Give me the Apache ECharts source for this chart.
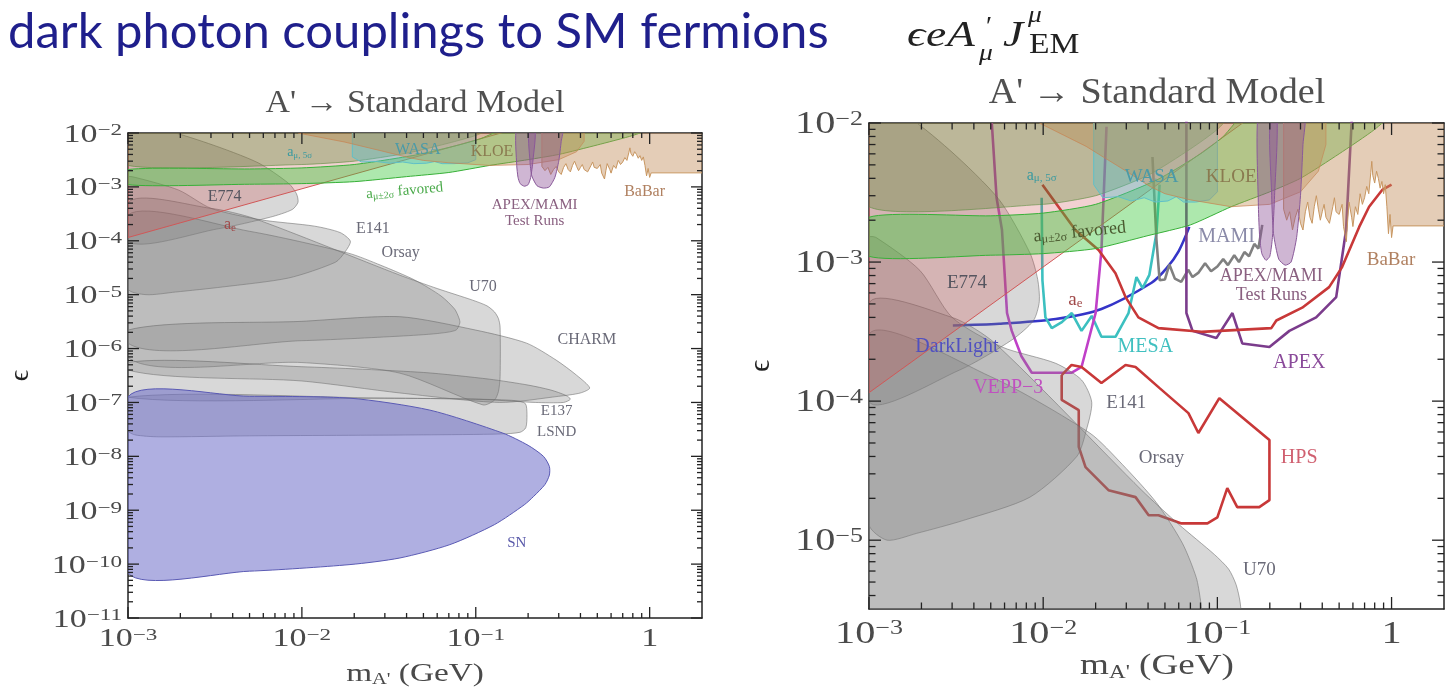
<!DOCTYPE html>
<html><head><meta charset="utf-8">
<script src="https://cdn.jsdelivr.net/npm/echarts@6.0.0/dist/echarts.min.js"></script>
<style>html,body{margin:0;padding:0;background:#fff}#c{width:1449px;height:693px}</style>
</head><body><div id="c"></div>
<script>
// ---------------- DATA (mass in GeV, epsilon) ----------------
const massTicks = [1e-3, 1e-2, 1e-1, 1];
const epsTicksLeft = [1e-11,1e-10,1e-9,1e-8,1e-7,1e-6,1e-5,1e-4,1e-3,1e-2];
const epsTicksRight = [1e-5,1e-4,1e-3,1e-2];
const minorMultipliers = [2,3,4,5,6,7,8,9];

const e774 = [[1e-3,1.0e-4],[3.3e-3,1.67e-4],[6.6e-3,2.75e-4],[8.8e-3,3.8e-4],[9.5e-3,5.2e-4],[9.3e-3,7.5e-4],[8.4e-3,1.16e-3],[5.6e-3,2.8e-3],[2.9e-3,6.4e-3],[1.5e-3,1.2e-2],[1e-3,1.2e-2]];
const e141 = [[1e-3,1.5e-3],[1.1e-3,1.5e-3],[1.96e-3,8.7e-4],[3.0e-3,4.0e-4],[5.8e-3,2.45e-4],[0.0118,1.87e-4],[0.0166,1.42e-4],[0.019,9.8e-5],[0.0177,6.2e-5],[0.0156,4.0e-5],[8.4e-3,2.04e-5],[3.5e-3,1.39e-5],[1.88e-3,1.12e-5],[1.27e-3,1.0e-5],[1e-3,1.3e-5]];
const orsay = [[1e-3,3e-4],[5e-3,1.5e-4],[0.0185,5.9e-5],[0.0285,3.5e-5],[0.0447,1.86e-5],[0.063,9.5e-6],[0.0756,5.4e-6],[0.08,3.7e-6],[0.081,3.0e-6],[0.077,2.2e-6],[0.06,1.9e-6],[0.0366,1.7e-6],[0.01,1.4e-6],[1e-3,1.26e-6]];
const u70 = [[1e-3,5e-4],[3e-3,4e-4],[5.3e-3,2.6e-4],[0.0366,2.3e-5],[0.06,1.3e-5],[0.096,7.9e-6],[0.116,6.2e-6],[0.128,4.8e-6],[0.135,3.6e-6],[0.138,2.5e-6],[0.138,3e-7],[0.135,1.6e-7],[0.128,1.1e-7],[0.11,9e-8],[0.0366,3.5e-7],[0.01,5.5e-7],[1e-3,6.9e-7]];
const charm = [[1e-3,2.2e-6],[0.01,3.2e-6],[0.0366,3.9e-6],[0.1,2.2e-6],[0.196,1.26e-6],[0.29,6.1e-7],[0.38,3.2e-7],[0.452,1.86e-7],[0.4,1.5e-7],[0.3,1.3e-7],[0.137,1.0e-7],[0.0366,1.5e-7],[0.01,2.5e-7],[1e-3,4e-7]];
const e137 = [[1e-3,5.5e-7],[0.01,4.6e-7],[0.05,3.6e-7],[0.12,2.7e-7],[0.2,2.1e-7],[0.27,1.7e-7],[0.33,1.35e-7],[0.35,1.15e-7],[0.32,1.0e-7],[0.22,1.0e-7],[0.1,1.15e-7],[0.03,1.2e-7],[1e-3,1.25e-7]];
const lsnd = [[1e-3,1.25e-7],[0.03,1.2e-7],[0.1,1.15e-7],[0.17,1.08e-7],[0.193,9.5e-8],[0.197,6e-8],[0.194,3.4e-8],[0.18,2.8e-8],[0.14,2.6e-8],[0.05,2.5e-8],[5e-3,2.4e-8],[1.5e-3,2.3e-8],[1.1e-3,2.5e-8],[1e-3,3e-8]];
const supernova = [[1e-3,1.26e-7],[5e-3,1.3e-7],[0.0189,1.2e-7],[0.0545,7.2e-8],[0.143,2.7e-8],[0.2,1.6e-8],[0.245,1.0e-8],[0.265,6.5e-9],[0.265,4.5e-9],[0.25,3e-9],[0.215,1.8e-9],[0.19,1.26e-9],[0.128,5.4e-10],[0.071,2.3e-10],[0.0366,1.3e-10],[0.0189,9.8e-11],[5e-3,7.4e-11],[1e-3,6.9e-11]];
const aeRegion = [[1e-3,1.15e-4],[0.16,1.13e-2],[1e-3,1.13e-2]];
const amu5sigma = [[1e-3,2.5e-3],[0.01,2.6e-3],[0.02,3.0e-3],[0.04,4.2e-3],[0.07,6.5e-3],[0.1,9e-3],[0.12,1.2e-2],[1e-3,1.2e-2]];
const amuFavored = [[1e-3,1.1e-3],[5e-3,1.12e-3],[0.01,1.15e-3],[0.02,1.25e-3],[0.04,1.55e-3],[0.07,1.85e-3],[0.12,2.5e-3],[0.2,3.2e-3],[0.3,4.0e-3],[0.5,6e-3],[0.8,9e-3],[1.0,1.2e-2],[0.15,1.2e-2],[0.107,7.9e-3],[0.08,6e-3],[0.045,3.9e-3],[0.02,2.6e-3],[0.01,2.25e-3],[5e-3,2.15e-3],[1e-3,2.1e-3]];
const wasa = [[0.0195,1.2e-2],[0.0195,3.6e-3],[0.022,2.9e-3],[0.027,2.95e-3],[0.032,2.75e-3],[0.038,2.9e-3],[0.044,2.7e-3],[0.052,2.75e-3],[0.058,2.95e-3],[0.064,2.7e-3],[0.075,2.7e-3],[0.09,2.8e-3],[0.1,3.2e-3],[0.1,1.2e-2]];
const kloe = [[0.0095,1.2e-2],[0.0095,1.0e-2],[0.0176,6.8e-3],[0.03,4.5e-3],[0.041,3.5e-3],[0.05,3.1e-3],[0.07,2.8e-3],[0.12,2.5e-3],[0.2,2.6e-3],[0.3,3.2e-3],[0.38,4.5e-3],[0.42,7e-3],[0.42,1.2e-2]];
const babar = [[0.24,1.2e-2],[0.24,2.4e-3],[0.25,2.0e-3],[0.26,2.3e-3],[0.27,1.7e-3],[0.28,2.1e-3],[0.29,2.4e-3],[0.30,1.9e-3],[0.31,1.7e-3],[0.32,2.3e-3],[0.33,2.7e-3],[0.34,2.1e-3],[0.35,1.9e-3],[0.36,2.5e-3],[0.37,3.0e-3],[0.38,2.4e-3],[0.39,2.0e-3],[0.40,2.3e-3],[0.41,2.6e-3],[0.42,2.1e-3],[0.44,1.9e-3],[0.46,2.5e-3],[0.47,2.9e-3],[0.48,2.3e-3],[0.5,2.2e-3],[0.52,2.6e-3],[0.53,1.8e-3],[0.55,1.4e-3],[0.56,2.0e-3],[0.57,2.7e-3],[0.59,2.1e-3],[0.6,1.8e-3],[0.62,2.5e-3],[0.64,2.2e-3],[0.66,3.1e-3],[0.68,2.6e-3],[0.7,2.9e-3],[0.72,3.5e-3],[0.74,3.1e-3],[0.76,4.4e-3],[0.77,5.3e-3],[0.78,4.2e-3],[0.8,3.7e-3],[0.82,4.5e-3],[0.84,4.0e-3],[0.86,3.4e-3],[0.88,3.8e-3],[0.9,3.1e-3],[0.92,3.6e-3],[0.94,2.5e-3],[0.96,1.6e-3],[0.98,2.2e-3],[1.0,1.5e-3],[1.02,1.82e-3],[2.5,1.82e-3],[2.5,1.2e-2]];
const testRun1 = [[0.172,1.2e-2],[0.172,2.5e-3],[0.175,1.5e-3],[0.18,1.15e-3],[0.19,1.03e-3],[0.2,1.1e-3],[0.207,1.5e-3],[0.213,3e-3],[0.218,1.2e-2]];
const testRun2 = [[0.205,1.2e-2],[0.205,3e-3],[0.21,1.6e-3],[0.225,1.05e-3],[0.245,9.5e-4],[0.265,1.0e-3],[0.285,1.5e-3],[0.3,3e-3],[0.31,7e-3],[0.315,1.2e-2]];

// projected reaches (right panel)
const darkLight = [[3.03e-3,3.5e-4],[5.6e-3,3.6e-4],[0.0118,3.9e-4],[0.0216,4.6e-4],[0.0419,7.1e-4],[0.051,9.0e-4],[0.06,1.2e-3],[0.069,1.79e-3]];
const mesa = [[9.8e-3,2.9e-3],[9.9e-3,7.4e-4],[0.0103,4.0e-4],[0.0112,3.35e-4],[0.0128,3.7e-4],[0.0146,4.3e-4],[0.0166,3.2e-4],[0.019,4.1e-4],[0.0216,2.9e-4],[0.026,2.9e-4],[0.0309,4.3e-4],[0.0343,7.8e-4],[0.0372,6.5e-4],[0.0407,8.1e-4],[0.0447,1.62e-3],[0.0466,3.6e-3]];
const vepp3 = [[5.07e-3,1.0e-2],[5.4e-3,2.9e-3],[5.8e-3,1.7e-3],[6.2e-3,4.3e-4],[6.6e-3,3.2e-4],[7.5e-3,2.1e-4],[8.6e-3,1.6e-4],[0.0146,1.6e-4],[0.0166,1.76e-4],[0.02,4.3e-4],[0.0216,1.22e-3],[0.0231,9.4e-3]];
const mami = [[0.0424,5.7e-3],[0.0447,1.44e-3],[0.0466,7.4e-4],[0.05,7.5e-4],[0.053,9.6e-4],[0.057,7.6e-4],[0.062,7.2e-4],[0.068,8.8e-4],[0.072,7.8e-4],[0.078,8.4e-4],[0.085,9.8e-4],[0.092,8.6e-4],[0.1,9.3e-4],[0.108,1.05e-3],[0.115,9.5e-4],[0.125,1.12e-3],[0.133,1.0e-3],[0.143,1.18e-3],[0.152,1.1e-3],[0.163,1.35e-3],[0.172,1.25e-3],[0.181,1.85e-3]];
const apex = [[0.0664,1.2e-2],[0.0664,4.3e-4],[0.072,3.2e-4],[0.0986,2.84e-4],[0.122,4.3e-4],[0.139,2.6e-4],[0.199,2.45e-4],[0.259,3.2e-4],[0.369,4.0e-4],[0.481,5.6e-4],[0.548,1.7e-3],[0.594,1.2e-2]];
const hpsUpper = [[9.9e-3,3.6e-3],[0.0153,1.7e-3],[0.0208,1.22e-3],[0.026,8.3e-4],[0.0297,5.6e-4],[0.0352,4.0e-4],[0.0459,3.35e-4],[0.081,3.15e-4],[0.204,3.35e-4],[0.218,3.8e-4],[0.307,4.7e-4],[0.438,6.6e-4],[0.52,9.2e-4],[0.652,1.79e-3],[0.743,2.5e-3],[0.883,3.3e-3],[1.0,3.6e-3]];
const hpsLower = [[0.01277,1.54e-4],[0.01456,1.82e-4],[0.0166,1.76e-4],[0.0216,1.35e-4],[0.0297,1.82e-4],[0.0339,1.76e-4],[0.0466,1.24e-4],[0.0682,8.2e-5],[0.0778,5.9e-5],[0.1026,1.05e-4],[0.199,5.25e-5],[0.199,1.94e-5],[0.174,1.73e-5],[0.130,1.73e-5],[0.114,2.37e-5],[0.1,1.46e-5],[0.0877,1.32e-5],[0.0622,1.32e-5],[0.0459,1.51e-5],[0.0403,1.51e-5],[0.0339,2.04e-5],[0.0237,2.29e-5],[0.0175,3.35e-5],[0.016,4.7e-5],[0.016,8.6e-5],[0.01277,1.02e-4],[0.01277,1.54e-4]];

// label anchors [key, mass, epsilon]
const labelsLeft = [['E774',3.6e-3,6.5e-4],['ae',3.86e-3,1.96e-4],['amu5',9.7e-3,4.4e-3],['WASA',0.0464,4.8e-3],['KLOE',0.124,4.4e-3],['amu2',0.039,8.4e-4],['TestRuns',0.218,3.3e-4],['BaBar',0.935,8.0e-4],['E141',0.0256,1.66e-4],['Orsay',0.037,5.9e-5],['U70',0.11,1.39e-5],['CHARM',0.435,1.45e-6],['E137',0.292,6.9e-8],['LSND',0.292,2.8e-8],['SN',0.172,2.5e-10]];
const labelsRight = [['E774',3.65e-3,7.1e-4],['ae',0.0153,5.3e-4],['amu5',9.8e-3,4.2e-3],['WASA',0.0419,4.1e-3],['KLOE',0.12,4.1e-3],['amu2R',0.0162,1.64e-3],['MAMI',0.113,1.51e-3],['TestRuns',0.204,6.8e-4],['BaBar',0.993,1.03e-3],['DarkLight',3.2e-3,2.45e-4],['MESA',0.0386,2.45e-4],['APEX',0.295,1.9e-4],['VEPP3',6.3e-3,1.24e-4],['E141',0.030,9.7e-5],['Orsay',0.0478,3.9e-5],['HPS',0.295,3.9e-5],['U70',0.174,6.1e-6]];

// ---------------- STYLES ----------------
const SERIF = '"Liberation Serif","DejaVu Serif",serif';
const TXT = '#4a4a4a';
const GRAY = {fill:'rgba(125,125,125,0.30)', stroke:'rgba(105,105,105,0.55)', smooth:0.25};
const regionStyle = {
  gray: GRAY,
  sn: {fill:'rgba(110,110,200,0.55)', stroke:'#5a5ab4', smooth:0.25},
  ae: {fill:'rgba(205,70,70,0.25)', stroke:'#d05858'},
  amu5: {fill:'rgba(80,130,40,0.33)', stroke:'rgba(90,140,60,0.6)', smooth:0.2},
  amu2: {fill:'rgba(60,200,60,0.42)', stroke:'#38b038', smooth:0.2},
  wasa: {fill:'rgba(90,190,200,0.40)', stroke:'#60c0c8'},
  kloe: {fill:'rgba(190,140,80,0.38)', stroke:'rgba(200,130,80,0.7)'},
  babar: {fill:'rgba(195,145,95,0.45)', stroke:'#c89660'},
  testrun: {fill:'rgba(140,80,150,0.42)', stroke:'#8a5a9a', smooth:0.2}
};
const lineStyle = {
  darkLight:{color:'#3535c8', smooth:0.3}, mesa:{color:'#3cc0c0'}, vepp3:{color:'#c040c8'},
  mami:{color:'#808080'}, apex:{color:'#7b3c8c'}, hps:{color:'#c83838'}
};
const labelStyles = {
  E774:{text:'E774', color:'#55555f', size:16},
  ae:{text:'{a|a}{s|e}', color:'#a04848', size:16, rich:true},
  amu5:{text:'{a|a}{s|μ, 5σ}', color:'#3a9aa0', size:14, rich:true},
  WASA:{text:'WASA', color:'#4a9aa8', size:16},
  KLOE:{text:'KLOE', color:'#8a7a50', size:16},
  amu2:{text:'{a|a}{s|μ±2σ}{a| favored}', color:'#4aaa4a', size:15, rich:true, rot:0.09},
  amu2R:{text:'{a|a}{s|μ±2σ}{a| favored}', color:'#4a5a30', size:15, rich:true, rot:0.1},
  TestRuns:{text:'APEX/MAMI\nTest Runs', color:'#8a6080', size:15},
  BaBar:{text:'BaBar', color:'#b08060', size:16},
  E141:{text:'E141', color:'#6a6a78', size:16},
  Orsay:{text:'Orsay', color:'#6a6a78', size:16},
  U70:{text:'U70', color:'#6a6a78', size:16},
  CHARM:{text:'CHARM', color:'#6a6a78', size:16},
  E137:{text:'E137', color:'#6a6a78', size:15},
  LSND:{text:'LSND', color:'#6a6a78', size:15},
  SN:{text:'SN', color:'#5a5aaa', size:15},
  MAMI:{text:'MAMI', color:'#8a8aa8', size:17},
  DarkLight:{text:'DarkLight', color:'#5050c0', size:17},
  MESA:{text:'MESA', color:'#40c0c0', size:17},
  APEX:{text:'APEX', color:'#8a4a9a', size:17},
  VEPP3:{text:'VEPP−3', color:'#c050c0', size:17},
  HPS:{text:'HPS', color:'#d06070', size:17}
};

// ---------------- BUILD ----------------
const panels = [
  {xr:[1e-3,2], yr:[1e-11,1e-2], yMajor:epsTicksLeft, lab:25, sup:17, sx:1.36, tick:[11,5], lscale:1.0, xm:9, ym:6},
  {xr:[1e-3,2], yr:[3.2e-6,1e-2], yMajor:epsTicksRight, lab:31, sup:20, sx:1.3, tick:[12,6.5], lscale:1.17, xm:10, ym:6}
];

function minors(lo, hi){
  const out=[];
  for(let e=Math.floor(Math.log10(lo)); e<=Math.ceil(Math.log10(hi)); e++){
    minorMultipliers.forEach(k=>{const v=k*Math.pow(10,e); if(v>lo*1.0001 && v<hi*0.9999) out.push(v);});
  }
  return out;
}
function powLabel(v){
  const l=Math.log10(v), e=Math.round(l);
  if(e===0) return '{b|1}';
  return '{b|10}{s|'+(e<0?'−':'')+Math.abs(e)+'}';
}
function tickRich(b,s){
  return {b:{fontSize:b,fontFamily:SERIF,fill:TXT,padding:[Math.round(b*0.3),0,0,0],verticalAlign:'bottom',lineHeight:b},
          s:{fontSize:s,fontFamily:SERIF,fill:TXT,verticalAlign:'top',lineHeight:s}};
}
const xAxes=[], yAxes=[], series=[];
panels.forEach((P,gi)=>{
  const line={show:true,onZero:false,lineStyle:{color:'#222',width:1.5}};
  const base={type:'log',logBase:10,gridIndex:gi,axisLine:line,axisTick:{show:false},splitLine:{show:false},axisLabel:{show:false}};
  xAxes.push(Object.assign({position:'bottom',min:P.xr[0],max:P.xr[1]},base));
  xAxes.push(Object.assign({position:'top',min:P.xr[0],max:P.xr[1]},base));
  yAxes.push(Object.assign({position:'left',min:P.yr[0],max:P.yr[1],name:'ϵ',nameLocation:'middle',nameGap:gi?93:93,
    nameTextStyle:{fontSize:gi?30:28,fontFamily:SERIF,color:'#222'}},base));
  yAxes.push(Object.assign({position:'right',min:P.yr[0],max:P.yr[1]},base));

  // ticks (kind: 0 x-major, 1 x-minor, 2 y-major, 3 y-minor)
  const tdata=[];
  massTicks.forEach(v=>tdata.push([v,P.yr[0],0]));
  minors(P.xr[0],P.xr[1]).forEach(v=>tdata.push([v,P.yr[0],1]));
  P.yMajor.forEach(v=>tdata.push([P.xr[0],v,2]));
  minors(P.yr[0],P.yr[1]).forEach(v=>tdata.push([P.xr[0],v,3]));
  series.push({type:'custom',xAxisIndex:gi*2,yAxisIndex:gi*2,clip:false,silent:true,z:10,data:tdata,
    renderItem:(params,api)=>{
      const k=api.value(2), len=(k===0||k===2)?P.tick[0]:P.tick[1];
      const st={stroke:'#222',lineWidth:1.3};
      if(k<2){
        const b=api.coord([api.value(0),P.yr[0]]), t=api.coord([api.value(0),P.yr[1]]);
        return {type:'group',children:[
          {type:'line',shape:{x1:b[0],y1:b[1],x2:b[0],y2:b[1]-len},style:st},
          {type:'line',shape:{x1:t[0],y1:t[1],x2:t[0],y2:t[1]+len},style:st}]};
      }
      const l=api.coord([P.xr[0],api.value(1)]), r=api.coord([P.xr[1],api.value(1)]);
      return {type:'group',children:[
        {type:'line',shape:{x1:l[0],y1:l[1],x2:l[0]+len,y2:l[1]},style:st},
        {type:'line',shape:{x1:r[0],y1:r[1],x2:r[0]-len,y2:r[1]},style:st}]};
    }});
  // tick labels (kind 0 = mass axis, 1 = epsilon axis), horizontally stretched like the source figure
  const ldata=[];
  massTicks.forEach(v=>ldata.push([v,P.yr[0],0]));
  P.yMajor.forEach(v=>ldata.push([P.xr[0],v,1]));
  series.push({type:'custom',xAxisIndex:gi*2,yAxisIndex:gi*2,clip:false,silent:true,z:10,data:ldata,
    renderItem:(params,api)=>{
      const k=api.value(2);
      const v=k===0?api.value(0):api.value(1);
      const p=api.coord([api.value(0),api.value(1)]);
      const style={text:powLabel(v),rich:tickRich(P.lab,P.sup),fill:TXT,font:P.lab+'px '+SERIF};
      if(k===0){ style.align='center'; style.verticalAlign='top'; return {type:'text',x:p[0],y:p[1]+P.xm,scaleX:P.sx,style}; }
      style.align='right'; style.verticalAlign='middle';
      return {type:'text',x:p[0]-P.ym,y:p[1]+2,scaleX:P.sx,style};
    }});
});

function regionSeries(gi, pts, st){
  return {type:'custom',xAxisIndex:gi*2,yAxisIndex:gi*2,clip:true,silent:true,z:3,data:pts,
    renderItem:(params,api)=>{
      if(params.dataIndexInside!==0) return null;
      const n=params.dataInsideLength, p=[];
      for(let i=0;i<n;i++) p.push(api.coord([api.value(0,i),api.value(1,i)]));
      return {type:'polygon',shape:{points:p,smooth:st.smooth||0},style:{fill:st.fill,stroke:st.stroke,lineWidth:1}};
    }};
}
function lineSeries(gi, pts, st){
  return {type:'line',xAxisIndex:gi*2,yAxisIndex:gi*2,data:pts,symbol:'none',showSymbol:false,clip:true,silent:true,z:2,
    smooth:st.smooth||false,lineStyle:{color:st.color,width:2.6},animation:false};
}
function labelSeries(gi, list, scale){
  return {type:'custom',xAxisIndex:gi*2,yAxisIndex:gi*2,clip:false,silent:true,z:6,data:list.map(l=>[l[1],l[2]]),
    renderItem:(params,api)=>{
      const st=labelStyles[list[params.dataIndex][0]];
      const p=api.coord([api.value(0),api.value(1)]);
      const fs=Math.round(st.size*scale);
      const style={text:st.text,fill:st.color,font:fs+'px '+SERIF,align:'center',verticalAlign:'middle',lineHeight:Math.round(fs*1.05)};
      if(st.rich) style.rich={a:{fontSize:fs,fontFamily:SERIF,fill:st.color},
        s:{fontSize:Math.round(fs*0.66),fontFamily:SERIF,fill:st.color,verticalAlign:'bottom',padding:[Math.round(fs*0.5),0,0,0]}};
      return {type:'text',x:p[0],y:p[1],rotation:st.rot||0,style};
    }};
}

// left panel
[[e774,'gray'],[e141,'gray'],[orsay,'gray'],[u70,'gray'],[charm,'gray'],[e137,'gray'],[lsnd,'gray'],[supernova,'sn'],
 [aeRegion,'ae'],[amu5sigma,'amu5'],[amuFavored,'amu2'],[wasa,'wasa'],[kloe,'kloe'],[babar,'babar'],[testRun1,'testrun'],[testRun2,'testrun']]
 .forEach(r=>series.push(regionSeries(0,r[0],regionStyle[r[1]])));
series.push(labelSeries(0,labelsLeft,panels[0].lscale));
// right panel
[[darkLight,'darkLight'],[mesa,'mesa'],[vepp3,'vepp3'],[mami,'mami'],[apex,'apex'],[hpsUpper,'hps'],[hpsLower,'hps']]
 .forEach(r=>series.push(lineSeries(1,r[0],lineStyle[r[1]])));
[[e774,'gray'],[e141,'gray'],[orsay,'gray'],[u70,'gray'],
 [aeRegion,'ae'],[amu5sigma,'amu5'],[amuFavored,'amu2'],[wasa,'wasa'],[kloe,'kloe'],[babar,'babar'],[testRun1,'testrun'],[testRun2,'testrun']]
 .forEach(r=>series.push(regionSeries(1,r[0],regionStyle[r[1]])));
series.push(labelSeries(1,labelsRight,panels[1].lscale));

const axisNameRich = (m,a)=>({m:{fontSize:m,fontFamily:SERIF,fill:TXT},a:{fontSize:a,fontFamily:SERIF,fill:TXT,verticalAlign:'bottom',padding:[Math.round(m*0.45),0,0,0]}});
const MI = 'italic 35px '+SERIF;
const chart = echarts.init(document.getElementById('c'), null, {renderer:'canvas',width:1449,height:693});
chart.setOption({
  backgroundColor:'#ffffff', animation:false,
  grid:[{left:128,top:133,width:574,height:485,outerBoundsMode:'none'},{left:869,top:123,width:575,height:486,outerBoundsMode:'none'}],
  xAxis:xAxes, yAxis:yAxes, series:series,
  graphic:[
    {type:'text',left:8,top:8,style:{text:'dark photon couplings to SM fermions',font:'49px Lato',fill:'#1f1f8c'}},
    {type:'text',x:415,y:104,scaleX:1.06,style:{text:"A' → Standard Model",font:'32px '+SERIF,fill:'#505050',align:'center',verticalAlign:'middle'}},
    {type:'text',x:1157,y:94,scaleX:1.06,style:{text:"A' → Standard Model",font:'36px '+SERIF,fill:'#505050',align:'center',verticalAlign:'middle'}},
    {type:'text',x:415,y:660,scaleX:1.28,style:{text:"{m|m}{a|A'}{m| (GeV)}",rich:axisNameRich(26,16),align:'center',verticalAlign:'top'}},
    {type:'text',x:1157,y:651,scaleX:1.28,style:{text:"{m|m}{a|A'}{m| (GeV)}",rich:axisNameRich(29,18),align:'center',verticalAlign:'top'}},
    {type:'text',x:907,y:19,scaleX:1.3,style:{text:'ϵ',font:MI,fill:'#222',verticalAlign:'top'}},
    {type:'text',x:926,y:19,scaleX:1.3,style:{text:'e',font:MI,fill:'#222',verticalAlign:'top'}},
    {type:'text',x:947,y:19,scaleX:1.3,style:{text:'A',font:MI,fill:'#222',verticalAlign:'top'}},
    {type:'text',x:986,y:14,style:{text:'′',font:'28px '+SERIF,fill:'#222',verticalAlign:'top'}},
    {type:'text',x:979,y:42,scaleX:1.15,style:{text:'μ',font:'italic 24px '+SERIF,fill:'#222',verticalAlign:'top'}},
    {type:'text',x:1003,y:19,scaleX:1.3,style:{text:'J',font:MI,fill:'#222',verticalAlign:'top'}},
    {type:'text',x:1028,y:4,scaleX:1.15,style:{text:'μ',font:'italic 24px '+SERIF,fill:'#222',verticalAlign:'top'}},
    {type:'text',x:1029,y:30,scaleX:1.12,style:{text:'EM',font:'30px '+SERIF,fill:'#222',verticalAlign:'top'}}
  ]
});
</script></body></html>
